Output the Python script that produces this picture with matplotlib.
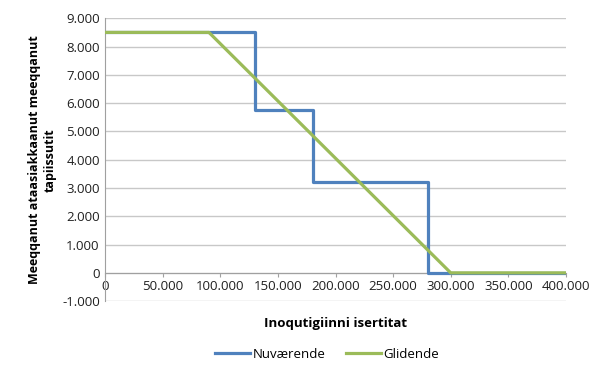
import matplotlib.pyplot as plt
from matplotlib.ticker import FuncFormatter

plt.rcParams['font.family'] = ['Open Sans', 'DejaVu Sans']

# Nuværende: step line
nuv_x = [0, 130000, 130000, 180000, 180000, 280000, 280000, 400000]
nuv_y = [8500, 8500, 5750, 5750, 3200, 3200, 0, 0]

# Glidende: linear phase-out
gli_x = [0, 90000, 300000, 400000]
gli_y = [8500, 8500, 0, 0]

xticks = [0, 50000, 100000, 150000, 200000, 250000, 300000, 350000, 400000]
yticks = [-1000, 0, 1000, 2000, 3000, 4000, 5000, 6000, 7000, 8000, 9000]


def dot_fmt(v, pos):
    return '{:,.0f}'.format(v).replace(',', '.')


fig = plt.figure(figsize=(5.95, 3.65), dpi=100)
ax = fig.add_axes([0.177, 0.175, 0.774, 0.775])

ax.plot(nuv_x, nuv_y, color='#4F81BD', lw=2.3, label='Nuværende', zorder=3)
ax.plot(gli_x, gli_y, color='#9BBB59', lw=2.3, label='Glidende', zorder=4)

ax.set_xlim(0, 400000)
ax.set_ylim(-1000, 9000)
ax.set_xticks(xticks)
ax.set_yticks(yticks)
ax.xaxis.set_major_formatter(FuncFormatter(dot_fmt))
ax.yaxis.set_major_formatter(FuncFormatter(dot_fmt))
ax.tick_params(axis='both', labelsize=9.5, length=3, color='#a0a0a0', colors='#202020')
ax.tick_params(axis='x', pad=2)
ax.tick_params(axis='y', length=0, pad=4)

ax.grid(axis='y', color='#c8c8c8', lw=1)
ax.set_axisbelow(True)
for s in ['top', 'right']:
    ax.spines[s].set_visible(False)
ax.spines['bottom'].set_position(('data', 0))
ax.spines['bottom'].set_color('#a0a0a0')
ax.spines['left'].set_color('#a0a0a0')

ax.set_ylabel('Meeqqanut ataasiakkaanut meeqqanut\ntapiissutit', fontsize=9,
              fontweight='bold', labelpad=4)
fig.text(0.5635, 0.115, 'Inoqutigiinni isertitat', fontsize=9.5, fontweight='bold',
         ha='center', va='center')

fig.legend(loc='center', bbox_to_anchor=(0.55, 0.03), ncol=2, frameon=False,
           fontsize=9.5, handlelength=2.6, columnspacing=1.6, handletextpad=0.2)

plt.savefig('out.png')
